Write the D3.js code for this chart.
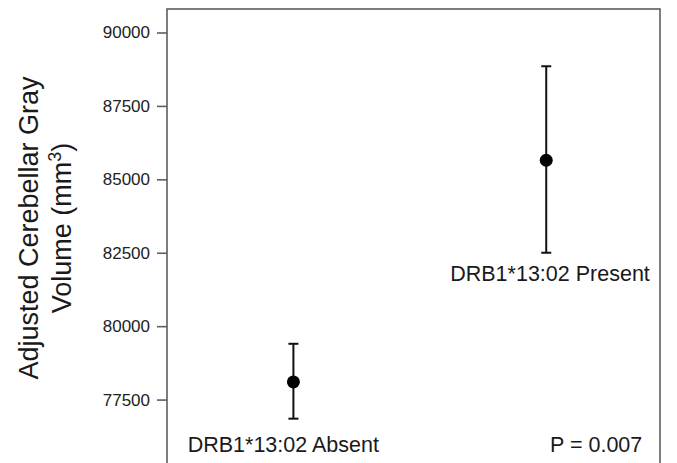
<!DOCTYPE html>
<html>
<head>
<meta charset="utf-8">
<script src="https://cdn.jsdelivr.net/npm/d3@7"></script>
<style>
  body { margin: 0; background: #fff; }
  svg { font-family: "Liberation Sans", Arial, sans-serif; }
</style>
</head>
<body>
<div id="chart"></div>
<script>
// group means and error bar limits
const groups = [1, 2];
const means = [78100, 85650];
const lower = [76850, 82500];
const upper = [79400, 88850];

const yTicks = [77500, 80000, 82500, 85000, 87500, 90000];

// text placed inside the frame
const noteText = ["DRB1*13:02 Absent", "DRB1*13:02 Present", "P = 0.007"];
const noteX = [0.96, 2.015, 2.38];
const noteY = [75700, 81550, 75700];
const noteAnchor = ["middle", "middle", "end"];

const width = 677, height = 463;
const margin = { top: 9, left: 167, right: 17 };
const plotW = width - margin.left - margin.right;
const plotH = 464;

(() => {
    const svg = d3.select("#chart").append("svg")
        .attr("width", width)
        .attr("height", height)
        .attr("viewBox", [0, 0, width, height]);

    const x = d3.scaleLinear().domain([0.5, 2.45]).range([0, plotW]);
    const y = d3.scaleLinear().domain([75000, 90800]).range([plotH, 0]);

    const g = svg.append("g")
        .attr("transform", `translate(${margin.left},${margin.top})`);

    // frame (bottom edge runs off the picture)
    g.append("rect")
        .attr("x", 0)
        .attr("y", 0)
        .attr("width", plotW)
        .attr("height", plotH)
        .attr("fill", "none")
        .attr("stroke", "#5e5e5e")
        .attr("stroke-width", 1.6);

    const yAxis = g.append("g")
        .call(d3.axisLeft(y).tickValues(yTicks).tickSize(10).tickPadding(7).tickFormat(d3.format("d")));
    yAxis.select(".domain").remove();
    yAxis.selectAll(".tick line").attr("stroke", "#5e5e5e").attr("stroke-width", 1.6);
    yAxis.selectAll(".tick text")
        .attr("fill", "#222")
        .style("font-size", "17px")
        .style("font-family", "'Liberation Sans', Arial, sans-serif");

    // error bars
    const bars = g.append("g")
        .attr("stroke", "#111")
        .attr("stroke-width", 2);

    bars.selectAll("line.whisker")
        .data(groups)
        .join("line")
            .attr("class", "whisker")
            .attr("x1", d => x(d))
            .attr("x2", d => x(d))
            .attr("y1", (d, i) => y(lower[i]))
            .attr("y2", (d, i) => y(upper[i]));

    const caps = groups.flatMap((d, i) => [[d, lower[i]], [d, upper[i]]]);
    bars.selectAll("line.cap")
        .data(caps)
        .join("line")
            .attr("class", "cap")
            .attr("x1", d => x(d[0]) - 5)
            .attr("x2", d => x(d[0]) + 5)
            .attr("y1", d => y(d[1]))
            .attr("y2", d => y(d[1]));

    g.append("g")
        .selectAll("circle")
        .data(groups)
        .join("circle")
            .attr("cx", d => x(d))
            .attr("cy", (d, i) => y(means[i]))
            .attr("r", 6.5)
            .attr("fill", "#000");

    g.append("g")
        .selectAll("text")
        .data(noteText)
        .join("text")
            .attr("x", (d, i) => x(noteX[i]))
            .attr("y", (d, i) => y(noteY[i]))
            .attr("text-anchor", (d, i) => noteAnchor[i])
            .attr("fill", "#1a1a1a")
            .style("font-size", "21.5px")
            .text(d => d);

    // y axis title, two lines
    const title = svg.append("text")
        .attr("transform", "translate(0,228) rotate(-90)")
        .attr("text-anchor", "middle")
        .attr("fill", "#1a1a1a")
        .style("font-size", "27px");
    title.append("tspan").attr("x", 0).attr("y", 38).text("Adjusted Cerebellar Gray");
    const line2 = title.append("tspan").attr("x", 0).attr("y", 71);
    line2.append("tspan").text("Volume (mm");
    line2.append("tspan").attr("dy", -10).style("font-size", "18px").text("3");
    line2.append("tspan").attr("dy", 10).text(")");
})();
</script>
</body>
</html>
